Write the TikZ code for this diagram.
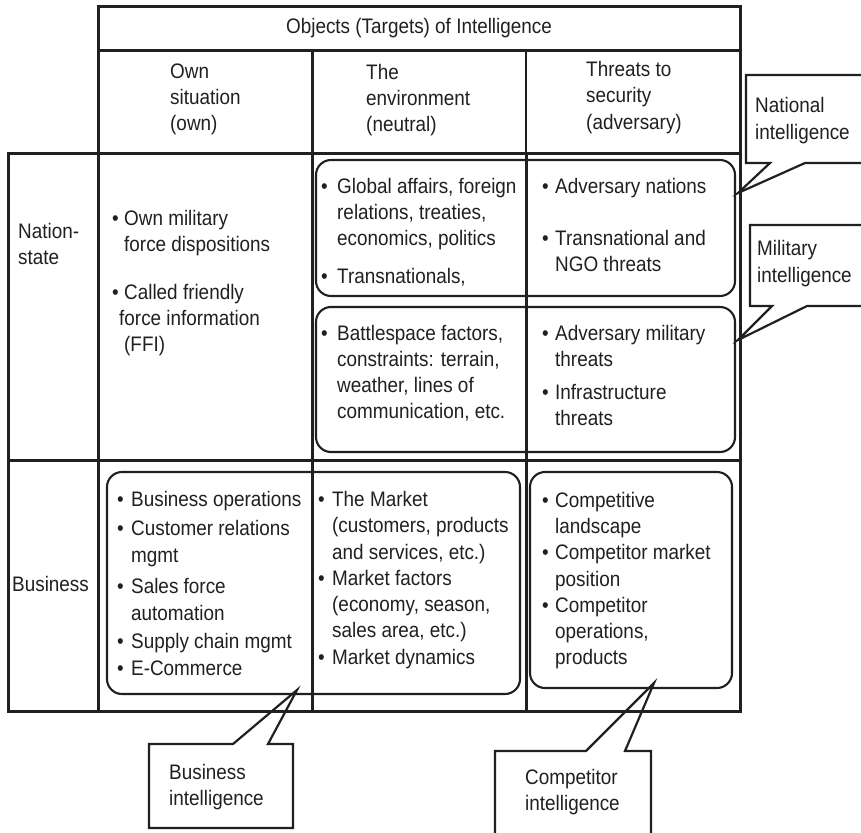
\documentclass[tikz,border=0pt]{standalone}
\usepackage{fontspec}
\setmainfont{Liberation Sans}[FakeStretch=0.9]
\definecolor{ink}{HTML}{231F20}
% bullet with a fixed-width slot, and the matching hanging indent
\newcommand{\bp}[1]{\makebox[#1][l]{\textbullet}}
\newcommand{\ip}[1]{\hspace*{#1}}
\tikzset{
  frame/.style={draw=ink, line width=3pt, line cap=rect, line join=miter},
  thin/.style={draw=ink, line width=1.7pt},
  rbox/.style={draw=ink, line width=2.1pt, rounded corners=15pt},
  callout/.style={draw=ink, line width=2.2pt, line join=miter},
  blk/.style={anchor=north west, inner sep=0pt, align=left, text=ink,
              font=\fontsize{21}{26}\selectfont},
}
\begin{document}
\begin{tikzpicture}[x=1pt, y=-1pt]
\useasboundingbox (0,0) rectangle (861,832);
\clip (0,0) rectangle (861,832);
\fill[white] (0,0) rectangle (861,832);

% ---- table grid ----
\draw[frame] (98,711) -- (98,7) -- (740,7) -- (740,711);
\draw[frame] (98,51) -- (740,51);
\draw[frame] (8,153) -- (740,153);
\draw[frame] (8,153) -- (8,711) -- (740,711);
\draw[frame] (8,460) -- (740,460);
\draw[frame] (312,51) -- (312,711);
\draw[thin] (526,51) -- (526,153);
\draw[frame] (526,153) -- (526,711);

% ---- rounded groupings ----
\draw[rbox] (316,160) rectangle (735,296);
\draw[rbox] (316,307) rectangle (735,452);
\draw[rbox] (107,472) rectangle (520,694);
\draw[rbox] (530,472) rectangle (732,688);

% ---- headings ----
\node[text=ink, font=\fontsize{21}{26}\selectfont, inner sep=0pt] (title) at (419,28)
  {Objects (Targets) of Intelligence};
\node[blk] (hown) at (170,64) {Own\\situation\\(own)};
\node[blk] (henv) at (366,64) {The\\environment\\(neutral)};
\node[blk, font=\fontsize{21}{26.5}\selectfont] (hthr) at (586,61)
  {Threats to\\security\\(adversary)};
\node[blk] (rnat) at (18,223) {Nation-\\state};
\node[blk] (rbus) at (12,576) {Business};

% ---- nation-state row ----
\node[blk] (nown) at (112,210) {\bp{12pt}Own military\\
  \ip{12pt}force dispositions\\[22pt]
  \bp{12pt}Called friendly\\
  \ip{7pt}force information\\
  \ip{12pt}(FFI)};
\node[blk] (nenv) at (321,178) {\bp{16pt}Global affairs, foreign\\
  \ip{16pt}relations, treaties,\\
  \ip{16pt}economics, politics\\[12pt]
  \bp{16pt}Transnationals,};
\node[blk] (nthr) at (542,178) {\bp{13pt}Adversary nations\\[26pt]
  \bp{13pt}Transnational and\\
  \ip{13pt}NGO threats};
\node[blk] (menv) at (321,325) {\bp{16pt}Battlespace factors,\\
  \ip{16pt}constraints: terrain,\\
  \ip{16pt}weather, lines of\\
  \ip{16pt}communication, etc.};
\node[blk] (mthr) at (542,325) {\bp{13pt}Adversary military\\
  \ip{13pt}threats\\[7pt]
  \bp{13pt}Infrastructure\\
  \ip{13pt}threats};

% ---- business row ----
\node[blk, font=\fontsize{21}{27}\selectfont] (bown) at (117,491)
  {\bp{14pt}Business operations\\[2pt]
  \bp{14pt}Customer relations\\
  \ip{14pt}mgmt\\[4pt]
  \bp{14pt}Sales force\\
  \ip{14pt}automation\\[1pt]
  \bp{14pt}Supply chain mgmt\\
  \bp{14pt}E-Commerce};
\node[blk, font=\fontsize{21}{26.3}\selectfont] (benv) at (318,491)
  {\bp{14pt}The Market\\
  \ip{14pt}(customers, products\\
  \ip{14pt}and services, etc.)\\
  \bp{14pt}Market factors\\
  \ip{14pt}(economy, season,\\
  \ip{14pt}sales area, etc.)\\
  \bp{14pt}Market dynamics};
\node[blk, font=\fontsize{21}{26.2}\selectfont] (bthr) at (542,492)
  {\bp{13pt}Competitive\\
  \ip{13pt}landscape\\
  \bp{13pt}Competitor market\\
  \ip{13pt}position\\
  \bp{13pt}Competitor\\
  \ip{13pt}operations,\\
  \ip{13pt}products};

% ---- callouts ----
\coordinate (tipnat) at (738,193);
\coordinate (tipmil) at (738,340);
\coordinate (tipbus) at (297,690);
\coordinate (tipcom) at (654,683);

\draw[callout] (tipnat) -- (770,163) -- (746,163) -- (746,75) -- (880,75)
  -- (880,163) -- (805,163) -- cycle;
\node[blk, font=\fontsize{21}{27}\selectfont] (cnat) at (755,97) {National\\intelligence};

\draw[callout] (tipmil) -- (772,306) -- (750,306) -- (750,225) -- (880,225)
  -- (880,306) -- (807,306) -- cycle;
\node[blk, font=\fontsize{21}{27}\selectfont] (cmil) at (757,240) {Military\\intelligence};

\draw[callout] (tipbus) -- (268,744) -- (293,744) -- (293,828) -- (149,828)
  -- (149,744) -- (233,744) -- cycle;
\node[blk] (cbus) at (169,764) {Business\\intelligence};

\draw[callout] (tipcom) -- (625,751) -- (651,751) -- (651,845) -- (495,845)
  -- (495,751) -- (586,751) -- cycle;
\node[blk] (ccom) at (525,769) {Competitor\\intelligence};
\end{tikzpicture}
\end{document}
